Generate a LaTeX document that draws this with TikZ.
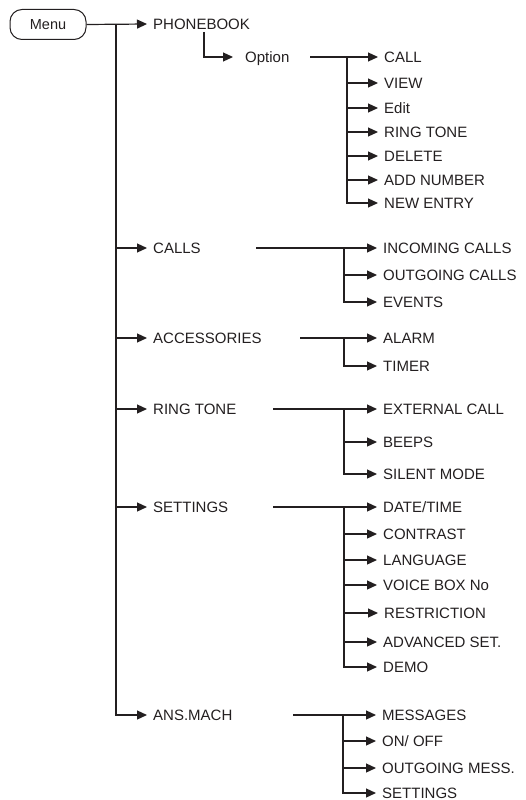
\documentclass[tikz,border=0pt]{standalone}
\usepackage{fontspec}
\setmainfont{Liberation Sans}
\usetikzlibrary{arrows.meta}
\definecolor{ink}{HTML}{231F20}
\begin{document}
\begin{tikzpicture}[x=1pt,y=-1pt,
  lbl/.style={anchor=west, inner xsep=6pt, inner ysep=1pt, text height=10.7pt, text depth=0pt,
              font=\fontsize{15}{17}\selectfont, text=ink},
  con/.style={draw=ink, line width=1.2pt},
  arr/.style={con, -{Triangle[length=10pt,width=9pt]}},
  menubox/.style={draw=ink, line width=1pt, rounded corners=12pt, minimum width=76pt, minimum height=30pt,
                  inner sep=0pt, font=\fontsize{14.5}{16}\selectfont, text=ink}
]
\useasboundingbox (0,0) rectangle (526,800);

% root
\node[menubox] (menu) at (48,24.5) {Menu};

% level 1
\node[lbl] (phonebook) at (147,24) {PHONEBOOK};
\node[lbl] (calls) at (147,248) {CALLS};
\node[lbl] (acc) at (147,338) {ACCESSORIES};
\node[lbl] (ring) at (147,409) {RING TONE};
\node[lbl] (settings) at (147,507) {SETTINGS};
\node[lbl] (ans) at (147,715) {ANS.MACH};

\coordinate (trunk) at (116,24);
\draw[arr] (menu.east) -- (phonebook.west);
\draw[arr] (trunk) |- (ans.west);
\foreach \n in {calls,acc,ring,settings}
  \draw[arr] (trunk |- \n.west) -- (\n.west);

% phonebook -> option
\node[lbl, inner xsep=12pt] (option) at (233,57) {Option};
\coordinate (pbj) at (204,32);
\draw[arr] (pbj) |- (option.west);

% option children
\node[lbl] (o1) at (378,57) {CALL};
\node[lbl] (o2) at (378,83) {VIEW};
\node[lbl] (o3) at (378,108) {Edit};
\node[lbl] (o4) at (378,132) {RING TONE};
\node[lbl] (o5) at (378,156) {DELETE};
\node[lbl] (o6) at (378,180) {ADD NUMBER};
\node[lbl] (o7) at (378,203) {NEW ENTRY};
\coordinate (oout) at (310,57);
\coordinate (oj) at (347,57);
\draw[arr] (oout) -- (o1.west);
\draw[arr] (oj) |- (o7.west);
\foreach \n in {o2,o3,o4,o5,o6}
  \draw[arr] (oj |- \n.west) -- (\n.west);

% calls children
\node[lbl] (c1) at (377,248) {INCOMING CALLS};
\node[lbl] (c2) at (377,275) {OUTGOING CALLS};
\node[lbl] (c3) at (377,302) {EVENTS};
\coordinate (cout) at (256,248);
\coordinate (cj) at (344,248);
\draw[arr] (cout) -- (c1.west);
\draw[arr] (cj) |- (c3.west);
\draw[arr] (cj |- c2.west) -- (c2.west);

% accessories children
\node[lbl] (a1) at (377,338) {ALARM};
\node[lbl] (a2) at (377,366) {TIMER};
\coordinate (aout) at (300,338);
\coordinate (aj) at (344,338);
\draw[arr] (aout) -- (a1.west);
\draw[arr] (aj) |- (a2.west);

% ring tone children
\node[lbl] (r1) at (377,409) {EXTERNAL CALL};
\node[lbl] (r2) at (377,442) {BEEPS};
\node[lbl] (r3) at (377,474) {SILENT MODE};
\coordinate (rout) at (273,409);
\coordinate (rj) at (344,409);
\draw[arr] (rout) -- (r1.west);
\draw[arr] (rj) |- (r3.west);
\draw[arr] (rj |- r2.west) -- (r2.west);

% settings children
\node[lbl] (s1) at (377,507) {DATE/TIME};
\node[lbl] (s2) at (377,534) {CONTRAST};
\node[lbl] (s3) at (377,560) {LANGUAGE};
\node[lbl] (s4) at (377,585) {VOICE BOX No};
\node[lbl] (s5) at (378,613) {RESTRICTION};
\node[lbl] (s6) at (377,642) {ADVANCED SET.};
\node[lbl] (s7) at (377,667) {DEMO};
\coordinate (sout) at (273,507);
\coordinate (sj) at (344,507);
\draw[arr] (sout) -- (s1.west);
\draw[arr] (sj) |- (s7.west);
\foreach \n in {s2,s3,s4,s5,s6}
  \draw[arr] (sj |- \n.west) -- (\n.west);

% ans.mach children
\node[lbl] (m1) at (376,715) {MESSAGES};
\node[lbl] (m2) at (376,741) {ON/ OFF};
\node[lbl] (m3) at (376,768) {OUTGOING MESS.};
\node[lbl] (m4) at (376,793) {SETTINGS};
\coordinate (mout) at (293,715);
\coordinate (mj) at (343,715);
\draw[arr] (mout) -- (m1.west);
\draw[arr] (mj) |- (m4.west);
\draw[arr] (mj |- m2.west) -- (m2.west);
\draw[arr] (mj |- m3.west) -- (m3.west);
\end{tikzpicture}
\end{document}
